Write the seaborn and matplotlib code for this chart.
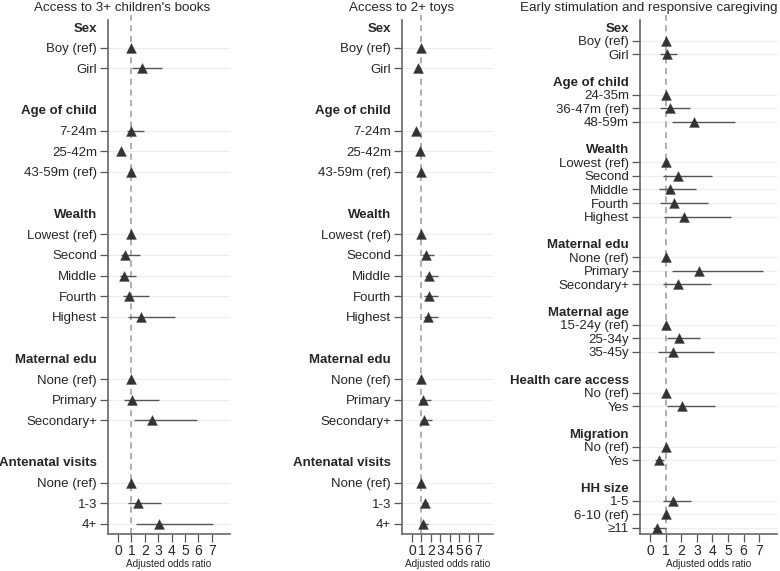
import matplotlib
matplotlib.use("Agg")
import matplotlib.pyplot as plt
import numpy as np
import pandas as pd
import seaborn as sns

sns.set_theme(style="white")
plt.rcParams['font.family'] = ['Liberation Sans', 'DejaVu Sans']

# ---- data: rows top to bottom; heading rows have None for values, "" = spacer ----
books_labels = ["Sex", "Boy (ref)", "Girl", "",
                "Age of child", "7-24m", "25-42m", "43-59m (ref)", "",
                "Wealth", "Lowest (ref)", "Second", "Middle", "Fourth", "Highest", "",
                "Maternal edu", "None (ref)", "Primary", "Secondary+", "",
                "Antenatal visits", "None (ref)", "1-3", "4+"]
books_or = [None, 1.0, 1.82, None,
            None, 0.98, 0.25, 1.0, None,
            None, 1.0, 0.55, 0.47, 0.82, 1.72, None,
            None, 1.0, 1.04, 2.54, None,
            None, 1.0, 1.49, 3.06]
books_lo = [None, 1.0, 1.07, None,
            None, 0.70, 0.15, 1.0, None,
            None, 1.0, 0.25, 0.17, 0.37, 0.75, None,
            None, 1.0, 0.42, 1.17, None,
            None, 1.0, 0.75, 1.37]
books_hi = [None, 1.0, 3.30, None,
            None, 1.95, 0.40, 1.0, None,
            None, 1.0, 1.62, 1.32, 2.31, 4.23, None,
            None, 1.0, 3.06, 5.90, None,
            None, 1.0, 3.20, 7.09]

toys_labels = books_labels
toys_or = [None, 1.0, 0.67, None,
           None, 0.42, 0.85, 1.0, None,
           None, 1.0, 1.48, 1.80, 1.77, 1.70, None,
           None, 1.0, 1.20, 1.30, None,
           None, 1.0, 1.34, 1.13]
toys_lo = [None, 1.0, 0.50, None,
           None, 0.30, 0.65, 1.0, None,
           None, 1.0, 1.06, 1.34, 1.30, 1.24, None,
           None, 1.0, 0.81, 0.92, None,
           None, 1.0, 1.06, 0.81]
toys_hi = [None, 1.0, 0.90, None,
           None, 0.60, 1.10, 1.0, None,
           None, 1.0, 2.30, 2.76, 2.72, 2.72, None,
           None, 1.0, 2.05, 2.08, None,
           None, 1.0, 1.73, 1.73]

esrc_labels = ["Sex", "Boy (ref)", "Girl", "",
               "Age of child", "24-35m", "36-47m (ref)", "48-59m", "",
               "Wealth", "Lowest (ref)", "Second", "Middle", "Fourth", "Highest", "",
               "Maternal edu", "None (ref)", "Primary", "Secondary+", "",
               "Maternal age", "15-24y (ref)", "25-34y", "35-45y", "",
               "Health care access", "No (ref)", "Yes", "",
               "Migration", "No (ref)", "Yes", "",
               "HH size", "1-5", "6-10 (ref)", "\u226511"]
esrc_or = [None, 1.0, 1.07, None,
           None, 1.0, 1.27, 2.79, None,
           None, 1.0, 1.80, 1.29, 1.52, 2.15, None,
           None, 1.0, 3.15, 1.80, None,
           None, 1.0, 1.85, 1.46, None,
           None, 1.0, 2.06, None,
           None, 1.0, 0.56, None,
           None, 1.46, 1.0, 0.43]
esrc_lo = [None, 1.0, 0.64, None,
           None, 1.0, 0.64, 1.44, None,
           None, 1.0, 0.86, 0.60, 0.67, 0.90, None,
           None, 1.0, 1.39, 0.86, None,
           None, 1.0, 1.09, 0.54, None,
           None, 1.0, 1.09, None,
           None, 1.0, 0.32, None,
           None, 0.86, 1.0, 0.21]
esrc_hi = [None, 1.0, 1.76, None,
           None, 1.0, 2.58, 5.45, None,
           None, 1.0, 4.00, 2.94, 3.69, 5.21, None,
           None, 1.0, 7.27, 3.93, None,
           None, 1.0, 3.22, 4.12, None,
           None, 1.0, 4.14, None,
           None, 1.0, 0.90, None,
           None, 2.62, 1.0, 1.00]

titles = ["Access to 3+ children's books", "Access to 2+ toys",
          "Early stimulation and responsive caregiving"]
xticks = [0, 1, 2, 3, 4, 5, 6, 7]

W, H = 780, 571
fig = plt.figure(figsize=(W / 100, H / 100), dpi=100)

# pixel boxes: left, right, top, bottom, title centre x, xlim
panels = [
    (books_labels, books_or, books_lo, books_hi, 108, 230, 20, 534, 122, (-0.75, 8.36)),
    (toys_labels, toys_or, toys_lo, toys_hi, 402, 493, 20, 534, 402, (-1.06, 8.6)),
    (esrc_labels, esrc_or, esrc_lo, esrc_hi, 640, 777, 20, 534, 649, (-0.64, 8.14)),
]

grid_col = "#e8f0f0"
dark = "#333333"
line_col = "#555555"

for (labels, ors, los, his, left, right, top, bottom, tx, xlim), title in zip(panels, titles):
    ax = fig.add_axes([left / W, 1 - bottom / H, (right - left) / W, (bottom - top) / H])
    df = pd.DataFrame({"label": labels, "or": ors, "lo": los, "hi": his})
    df["row"] = np.arange(len(df))
    for c in ("or", "lo", "hi"):
        df[c] = pd.to_numeric(df[c])
    items = df.dropna(subset=["or"])
    n = len(df)
    first_px, last_px = 27, (524 if n == 25 else 528)
    step = (last_px - first_px) / (n - 1)
    ylo = (top - first_px) / step
    yhi = (n - 1) + (bottom - last_px) / step

    for r in items["row"]:
        ax.axhline(r, color=grid_col, lw=0.9, zorder=0)
    ax.axvline(1, color="#9a9a9a", lw=1.1, ls=(0, (4, 3)), zorder=1, clip_on=False,
               ymin=0, ymax=1.01)
    ax.hlines(items["row"], items["lo"], items["hi"], color=line_col, lw=1.0, zorder=2)
    sns.scatterplot(data=items, x="or", y="row", marker="^", s=50, color=dark,
                    edgecolor=dark, linewidth=0.3, zorder=3, ax=ax, legend=False)

    ax.set_xlim(xlim)
    ax.set_ylim(yhi, ylo)
    ax.set_yticks(df["row"])
    ax.set_yticklabels(df["label"], fontsize=9.5)
    ax.set_xticks(xticks)
    ax.set_xticklabels([str(t) for t in xticks], fontsize=10)
    ax.tick_params(axis="y", length=6, width=0.9, color=line_col, pad=2, left=True)
    ax.tick_params(axis="x", length=6, width=0.9, color=line_col, pad=1, bottom=True)
    for tick, lab, o in zip(ax.yaxis.get_major_ticks(), df["label"], df["or"]):
        if pd.isna(o):
            tick.tick1line.set_visible(False)
            if lab:
                tick.label1.set_fontweight("bold")
    ax.set_xlabel("Adjusted odds ratio", fontsize=7.2, labelpad=1)
    ax.set_ylabel("")
    sns.despine(ax=ax)
    for s in ("left", "bottom"):
        ax.spines[s].set_color("#666666")
        ax.spines[s].set_linewidth(1.2)
    fig.text(tx / W, 1 - 8 / H, title, ha="center", va="center", fontsize=9.6)

fig.savefig("out.png", dpi=100)
